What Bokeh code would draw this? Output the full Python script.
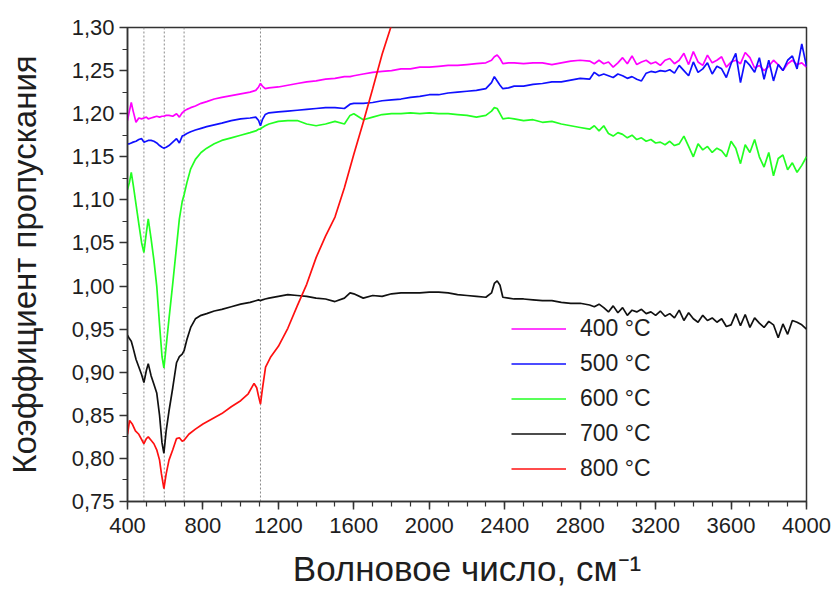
from bokeh.plotting import figure
from bokeh.models import (Range1d, FixedTicker, CustomJSTickFormatter, Span,
                          Legend, LegendItem)
from bokeh.embed import file_html
from bokeh.resources import INLINE

# ---------------- data ----------------
WAVENUMBER = [
    400, 410, 420, 430, 445, 460, 475, 487, 500, 510,
    525, 540, 555, 570, 583, 593, 605, 620, 640, 660,
    675, 690, 700, 715, 735, 760, 790, 820, 860, 900,
    950, 1000, 1050, 1080, 1095, 1105, 1115, 1130, 1150,
    1200, 1250, 1300, 1350, 1400, 1450, 1500, 1550, 1580, 1600,
    1650, 1700, 1750, 1800, 1850, 1900, 1950, 2000, 2050, 2100,
    2150, 2200, 2250, 2300, 2330, 2345, 2360, 2375, 2390, 2420,
    2450, 2500, 2550, 2600, 2650, 2700, 2750, 2800, 2850, 2875,
    2900,
    2925, 2950, 2975, 3000, 3025, 3050, 3075, 3100, 3125, 3150,
    3175, 3200, 3225, 3250, 3275, 3300, 3325, 3350, 3375, 3400,
    3425, 3450, 3475, 3500, 3525, 3550, 3575, 3600, 3625, 3650,
    3675, 3700, 3725, 3750, 3775, 3800, 3825, 3850, 3875, 3900,
    3925, 3950, 3975, 4000,
]

T400 = [
    1.192, 1.203, 1.213, 1.203, 1.190, 1.195, 1.194, 1.195, 1.196, 1.194,
    1.195, 1.196, 1.197, 1.196, 1.197, 1.197, 1.198, 1.198, 1.197, 1.200,
    1.196, 1.201, 1.203, 1.205, 1.207, 1.209, 1.212, 1.214, 1.217, 1.219,
    1.221, 1.223, 1.225, 1.227, 1.231, 1.235, 1.232, 1.229, 1.230,
    1.231, 1.233, 1.235, 1.237, 1.238, 1.240, 1.241, 1.243, 1.243, 1.244,
    1.246, 1.248, 1.249, 1.250, 1.252, 1.252, 1.254, 1.254, 1.255, 1.256,
    1.256, 1.257, 1.258, 1.259, 1.262, 1.266, 1.268, 1.264, 1.258, 1.259,
    1.259, 1.258, 1.259, 1.259, 1.257, 1.259, 1.261, 1.262, 1.261, 1.258,
    1.262,
    1.258, 1.260, 1.254, 1.259, 1.265, 1.258, 1.267, 1.257, 1.260, 1.262,
    1.258, 1.260, 1.256, 1.262, 1.264, 1.258, 1.262, 1.270, 1.257, 1.272,
    1.260, 1.256, 1.268, 1.259, 1.262, 1.266, 1.254, 1.260, 1.262, 1.258,
    1.271, 1.265, 1.253, 1.256, 1.250, 1.255, 1.262, 1.257, 1.250, 1.258,
    1.262, 1.257, 1.259, 1.254,
]

T500 = [
    1.165, 1.165, 1.166, 1.167, 1.168, 1.170, 1.171, 1.167, 1.168, 1.169,
    1.169, 1.168, 1.166, 1.163, 1.161, 1.160, 1.161, 1.163, 1.167, 1.171,
    1.166, 1.174, 1.175, 1.177, 1.179, 1.181, 1.183, 1.185, 1.187, 1.189,
    1.192, 1.194, 1.195, 1.196, 1.192, 1.186, 1.193, 1.199, 1.201,
    1.202, 1.203, 1.204, 1.205, 1.206, 1.207, 1.207, 1.206, 1.211, 1.212,
    1.212, 1.213, 1.215, 1.216, 1.217, 1.219, 1.220, 1.222, 1.222, 1.224,
    1.225, 1.226, 1.227, 1.229, 1.236, 1.243, 1.238, 1.233, 1.229, 1.230,
    1.232, 1.232, 1.234, 1.235, 1.237, 1.237, 1.239, 1.241, 1.240, 1.248,
    1.244,
    1.246, 1.244, 1.242, 1.246, 1.244, 1.241, 1.243, 1.240, 1.238, 1.247,
    1.249, 1.248, 1.250, 1.249, 1.251, 1.247, 1.256, 1.250, 1.244, 1.260,
    1.248, 1.252, 1.259, 1.246, 1.255, 1.252, 1.242, 1.258, 1.270, 1.236,
    1.262, 1.256, 1.248, 1.265, 1.240, 1.262, 1.238, 1.257, 1.250, 1.262,
    1.267, 1.252, 1.281, 1.255,
]

T600 = [
    1.112, 1.120, 1.132, 1.118, 1.095, 1.072, 1.050, 1.039, 1.062, 1.078,
    1.055, 1.030, 1.000, 0.955, 0.918, 0.905, 0.930, 0.962, 1.003, 1.046,
    1.078, 1.098, 1.106, 1.120, 1.136, 1.147, 1.155, 1.160, 1.165, 1.169,
    1.172, 1.175, 1.178, 1.180, 1.182, 1.182, 1.184, 1.186, 1.188,
    1.191, 1.192, 1.192, 1.188, 1.186, 1.188, 1.191, 1.188, 1.198, 1.200,
    1.193, 1.196, 1.199, 1.200, 1.200, 1.201, 1.200, 1.201, 1.200, 1.200,
    1.199, 1.198, 1.196, 1.198, 1.203, 1.207, 1.206, 1.200, 1.194, 1.195,
    1.194, 1.192, 1.193, 1.190, 1.191, 1.188, 1.186, 1.184, 1.182, 1.186,
    1.180,
    1.186, 1.177, 1.174, 1.178, 1.176, 1.172, 1.175, 1.170, 1.172, 1.168,
    1.170, 1.166, 1.167, 1.164, 1.168, 1.163, 1.165, 1.174, 1.162, 1.150,
    1.165, 1.158, 1.162, 1.155, 1.160, 1.157, 1.150, 1.168, 1.160, 1.142,
    1.164, 1.155, 1.170, 1.150, 1.138, 1.155, 1.128, 1.148, 1.152, 1.135,
    1.143, 1.132, 1.140, 1.150,
]

T700 = [
    0.943, 0.939, 0.936, 0.928, 0.915, 0.906, 0.897, 0.888, 0.902, 0.910,
    0.896, 0.886, 0.876, 0.850, 0.818, 0.806, 0.832, 0.855, 0.882, 0.911,
    0.918, 0.921, 0.925, 0.938, 0.952, 0.962, 0.966, 0.968, 0.971, 0.973,
    0.976, 0.979, 0.981, 0.983, 0.984, 0.983, 0.984, 0.985, 0.986,
    0.988, 0.990, 0.989, 0.988, 0.986, 0.985, 0.982, 0.986, 0.992, 0.991,
    0.986, 0.989, 0.988, 0.991, 0.992, 0.992, 0.992, 0.993, 0.993, 0.992,
    0.990, 0.989, 0.988, 0.987, 0.992, 1.003, 1.006, 1.001, 0.987, 0.986,
    0.985, 0.985, 0.984, 0.983, 0.983, 0.981, 0.980, 0.980, 0.978, 0.976,
    0.979,
    0.975, 0.970, 0.977, 0.969, 0.975, 0.966, 0.972, 0.970, 0.973, 0.968,
    0.970, 0.966, 0.971, 0.965, 0.968, 0.963, 0.972, 0.960, 0.969, 0.962,
    0.958, 0.966, 0.960, 0.963, 0.958, 0.962, 0.953, 0.955, 0.968, 0.954,
    0.967, 0.952, 0.963, 0.957, 0.952, 0.959, 0.955, 0.940, 0.956, 0.944,
    0.960, 0.958, 0.955, 0.950,
]

WAVENUMBER_800 = [
    400, 411, 425, 442, 460, 487, 500, 510, 525, 540,
    555, 570, 580, 593, 605, 620, 640, 660, 675, 690,
    700, 725, 760, 800, 850, 900, 950, 1000, 1040, 1071,
    1085, 1095, 1105, 1115, 1132, 1160, 1200, 1250, 1300, 1350,
    1400, 1450, 1500, 1550, 1600, 1650, 1700, 1750, 1800, 1850,
]
T800 = [
    0.828, 0.844, 0.840, 0.832, 0.828, 0.817, 0.823, 0.825, 0.821, 0.817,
    0.810, 0.798, 0.782, 0.765, 0.782, 0.798, 0.810, 0.823, 0.824, 0.820,
    0.821, 0.828, 0.834, 0.840, 0.846, 0.852, 0.860, 0.867, 0.875, 0.887,
    0.882, 0.872, 0.863, 0.880, 0.906, 0.918, 0.930, 0.951, 0.977, 1.002,
    1.033, 1.058, 1.080, 1.114, 1.153, 1.190, 1.229, 1.269, 1.303, 1.340,
]

SERIES_LABELS = ["400 °C", "500 °C", "600 °C", "700 °C", "800 °C"]
SERIES_COLORS = ["#ff00ff", "#1010ff", "#22ff22", "#111111", "#ff1010"]

REFERENCE_LINES = [487, 595, 700, 1105]

X_TICKS = [400, 800, 1200, 1600, 2000, 2400, 2800, 3200, 3600, 4000]
Y_TICKS = [0.75, 0.80, 0.85, 0.90, 0.95, 1.00, 1.05, 1.10, 1.15, 1.20, 1.25, 1.30]

FONT = "Liberation Sans"
TEXT_COLOR = "#1e1e1e"

# ---------------- figure ----------------
p = figure(width=834, height=596, output_backend="svg", toolbar_location=None,
           x_range=Range1d(400, 4000), y_range=Range1d(0.75, 1.30),
           min_border_left=127, min_border_right=28,
           min_border_top=27, min_border_bottom=95)
p.grid.visible = False
p.background_fill_color = "white"
p.border_fill_color = "white"
p.outline_line_color = "#333333"
p.outline_line_width = 1.5

xminor = [v for v in range(400, 4001, 100)]
yminor = [round(0.75 + 0.025 * i, 3) for i in range(23)]
p.xaxis[0].ticker = FixedTicker(ticks=X_TICKS, minor_ticks=xminor)
p.yaxis[0].ticker = FixedTicker(ticks=Y_TICKS, minor_ticks=yminor)
p.yaxis[0].formatter = CustomJSTickFormatter(
    code="return tick.toFixed(2).replace('.', ',');")

for ax in (p.xaxis[0], p.yaxis[0]):
    ax.axis_line_color = "#333333"
    ax.axis_line_width = 1.5
    ax.major_tick_line_color = "#333333"
    ax.minor_tick_line_color = "#333333"
    ax.major_tick_line_width = 1.5
    ax.minor_tick_line_width = 1.2
    ax.major_tick_out = 8
    ax.major_tick_in = 0
    ax.minor_tick_out = 5
    ax.minor_tick_in = 0
    ax.major_label_text_font = FONT
    ax.major_label_text_font_size = "22px"
    ax.major_label_text_color = TEXT_COLOR
    ax.axis_label_text_font = FONT
    ax.axis_label_text_font_style = "normal"
    ax.axis_label_text_color = TEXT_COLOR

p.xaxis[0].axis_label = "Волновое число, см⁻¹"
p.xaxis[0].axis_label_text_font_size = "35px"
p.xaxis[0].major_label_standoff = 8
p.xaxis[0].axis_label_standoff = 13
p.yaxis[0].axis_label = "Коэффициент пропускания"
p.yaxis[0].axis_label_text_font_size = "33px"
p.yaxis[0].major_label_standoff = 5
p.yaxis[0].axis_label_standoff = 26

for v in REFERENCE_LINES:
    p.add_layout(Span(location=v, dimension="height", line_color="#8a8a8a",
                      line_dash="2 2", line_width=1, level="underlay"))

xs = [WAVENUMBER, WAVENUMBER, WAVENUMBER, WAVENUMBER, WAVENUMBER_800]
ys = [T400, T500, T600, T700, T800]
items = []
for x, y, lab, col in zip(xs, ys, SERIES_LABELS, SERIES_COLORS):
    r = p.line(x, y, line_color=col, line_width=1.7)
    items.append(LegendItem(label=lab, renderers=[r]))

legend = Legend(items=items, location=(384, 15), orientation="vertical",
                glyph_width=55, glyph_height=35, label_height=35,
                spacing=0, padding=0, margin=0, label_standoff=14,
                label_text_font=FONT, label_text_font_size="23px",
                label_text_color=TEXT_COLOR,
                border_line_alpha=0, background_fill_alpha=0)
p.add_layout(legend)

open("out.html", "w").write(file_html(p, INLINE))
